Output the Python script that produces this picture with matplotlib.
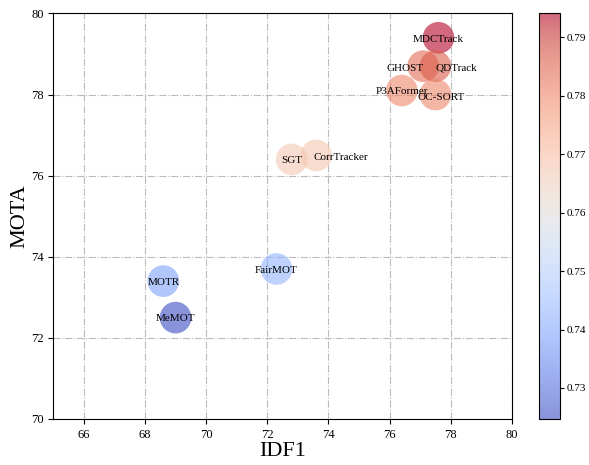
import numpy as np
import matplotlib
matplotlib.use("Agg")
import matplotlib.pyplot as plt

plt.rcParams["font.family"] = ["Liberation Serif", "DejaVu Serif"]

## DATA ##
trackers = ["MDCTrack", "GHOST", "QDTrack", "P3AFormer", "OC-SORT",
            "SGT", "CorrTracker", "FairMOT", "MOTR", "MeMOT"]
idf1 = [77.6, 77.1, 77.5, 76.4, 77.5, 72.8, 73.6, 72.3, 68.6, 69.0]
mota = [79.4, 78.7, 78.7, 78.1, 78.0, 76.4, 76.5, 73.7, 73.4, 72.5]
score = [0.7941, 0.784, 0.786, 0.780, 0.780, 0.767, 0.768, 0.743, 0.739, 0.7247]

# label placement: (dx, dy, ha)
label_pos = {
    "GHOST": (0.0, -0.05, "right"),
    "QDTrack": (0.0, -0.05, "left"),
    "CorrTracker": (-0.1, -0.05, "left"),
    "OC-SORT": (0.2, -0.08, "center"),
}

fig = plt.figure(figsize=(5.89, 4.65), dpi=100)
ax = fig.add_axes([0.0905, 0.099, 0.7785, 0.872])
cax = fig.add_axes([0.915, 0.099, 0.0357, 0.872])

sc = ax.scatter(idf1, mota, c=score, cmap="coolwarm", s=520, alpha=0.6,
                vmin=min(score), vmax=max(score), edgecolors="none", zorder=3)

for name, x, y in zip(trackers, idf1, mota):
    dx, dy, ha = label_pos.get(name, (0.0, -0.03, "center"))
    ax.text(x + dx, y + dy, name, ha=ha, va="center", fontsize=8, zorder=4)

ax.set_xlim(65, 80)
ax.set_ylim(70, 80)
ax.set_xticks(np.arange(66, 81, 2))
ax.set_yticks(np.arange(70, 81, 2))
ax.tick_params(labelsize=9)
ax.grid(True, linestyle="-.", color="#bbbbbb", linewidth=0.8)
ax.set_axisbelow(True)
ax.set_xlabel("IDF1", fontsize=16, labelpad=1)
ax.set_ylabel("MOTA", fontsize=16, labelpad=1)

cb = fig.colorbar(sc, cax=cax)
cb.set_ticks([0.73, 0.74, 0.75, 0.76, 0.77, 0.78, 0.79])
cb.ax.tick_params(labelsize=8, length=3, pad=2)

fig.savefig("out.png", dpi=100)
